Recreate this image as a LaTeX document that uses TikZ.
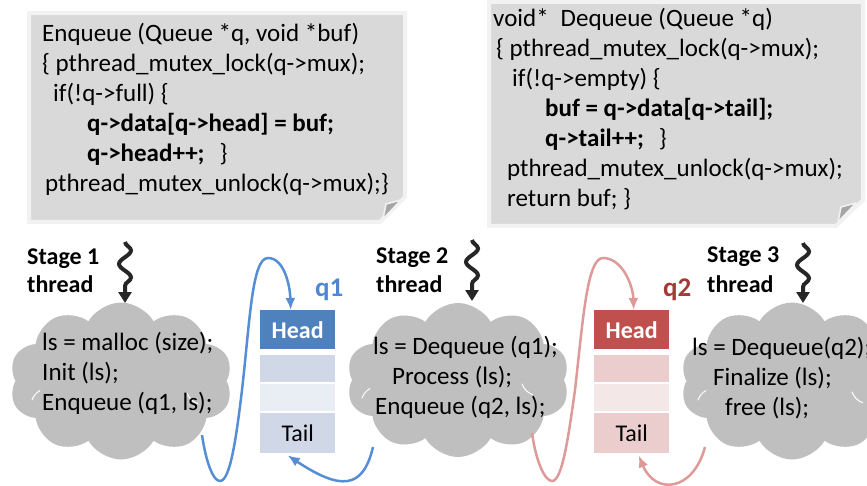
\documentclass[tikz,border=0pt]{standalone}
\usepackage{fontspec}
\setmainfont{Carlito}
\usetikzlibrary{shapes.symbols,arrows.meta,decorations.pathmorphing}

\definecolor{boxfill}{HTML}{D9D9D9}
\definecolor{boxedge}{HTML}{F2F2F2}
\definecolor{foldgray}{HTML}{A6A6A6}
\definecolor{cloudgray}{HTML}{BFBFBF}
\definecolor{threadink}{HTML}{262626}
\definecolor{qblue}{HTML}{4F81BD}
\definecolor{qblueA}{HTML}{D0D8E8}
\definecolor{qblueB}{HTML}{E9EDF4}
\definecolor{arrowblue}{HTML}{558ED5}
\definecolor{labelblue}{HTML}{4F88D0}
\definecolor{qred}{HTML}{C0504D}
\definecolor{qredA}{HTML}{EACDCC}
\definecolor{qredB}{HTML}{F4E7E7}
\definecolor{arrowred}{HTML}{DE9A98}
\definecolor{labelred}{HTML}{A33A36}

\begin{document}
\begin{tikzpicture}[x=1pt,y=-1pt,
  codebox/.style={fill=boxfill,draw=boxedge,line width=4pt,line join=miter},
  fold/.style={fill=foldgray,draw=boxedge,line width=1.5pt,line join=round},
  codeline/.style={anchor=base west,inner sep=0pt,font=\fontsize{25}{30}\selectfont},
  stagelabel/.style={anchor=base west,inner sep=0pt,font=\fontsize{24}{28}\selectfont\bfseries},
  qlabel/.style={anchor=base west,inner sep=0pt,font=\fontsize{27}{30}\selectfont\bfseries},
  puff/.style={cloud,cloud puffs=10,cloud puff arc=120,fill=cloudgray,draw=none,inner sep=0pt},
  puffline/.style={draw=white,line width=1pt,line cap=round},
  cell/.style={anchor=north west,minimum width=75pt,inner sep=0pt,draw=none,font=\fontsize{24}{28}\selectfont},
  threadarrow/.style={draw=threadink,line width=4pt,decorate,
    decoration={snake,amplitude=6pt,segment length=27pt,post length=10pt},
    -{Triangle[length=11pt,width=13pt]}},
  flowblue/.style={draw=arrowblue,line width=2.5pt,-{Latex[length=12pt,width=10pt]}},
  flowred/.style={draw=arrowred,line width=2.5pt,-{Latex[length=12pt,width=10pt]}}]

\useasboundingbox (0,0) rectangle (867,486);

% ---- code boxes with a folded corner ----
\draw[codebox] (29,13) -- (405,13) -- (405,197) -- (380,222) -- (29,222) -- cycle;
\draw[fold] (383,219) -- (386,204) -- (401,200) -- cycle;
\draw[codebox] (489,2) -- (863,2) -- (863,200) -- (836,226) -- (489,226) -- cycle;
\draw[fold] (838,222) -- (841,207) -- (856,203) -- cycle;

\node[codeline] (e1) at (42,42)  {Enqueue (Queue *q, void *buf)};
\node[codeline] (e2) at (42,72)  {\{ pthread\_mutex\_lock(q->mux);};
\node[codeline] (e3) at (53,102) {if(!q->full) \{};
\node[codeline] (e4) at (87,132) {\bfseries q->data[q->head] = buf;};
\node[codeline] (e5) at (87,162) {\textbf{q->head++;}\hspace{15pt}\}};
\node[codeline] (e6) at (45,192) {pthread\_mutex\_unlock(q->mux);\}};

\node[codeline] (d1) at (493,27)  {void*\hspace{12pt}Dequeue (Queue *q)};
\node[codeline] (d2) at (496,57)  {\{ pthread\_mutex\_lock(q->mux);};
\node[codeline] (d3) at (512,87)  {if(!q->empty) \{};
\node[codeline] (d4) at (545,117) {\bfseries buf = q->data[q->tail];};
\node[codeline] (d5) at (545,147) {\textbf{q->tail++;}\hspace{15pt}\}};
\node[codeline] (d6) at (507,177) {pthread\_mutex\_unlock(q->mux);};
\node[codeline] (d7) at (507,207) {return buf; \}};

% ---- stage clouds ----
\node[puff,minimum width=223pt,minimum height=157pt] (cloud1) at (121,381) {};
\node[puff,minimum width=223pt,minimum height=154pt] (cloud2) at (458,380) {};
\node[puff,minimum width=223pt,minimum height=157pt] (cloud3) at (792,381) {};

% faint inner puff edges
\draw[puffline] (187,393) arc[start angle=200,end angle=250,radius=18pt];
\draw[puffline] (32,400) arc[start angle=160,end angle=120,radius=18pt];
\draw[puffline] (522,384) arc[start angle=200,end angle=250,radius=18pt];
\draw[puffline] (362,398) arc[start angle=160,end angle=120,radius=18pt];
\draw[puffline] (852,392) arc[start angle=200,end angle=250,radius=18pt];
\draw[puffline] (698,400) arc[start angle=160,end angle=120,radius=18pt];

\node[codeline] (c1a) at (42,350) {ls = malloc (size);};
\node[codeline] (c1b) at (42,380) {Init (ls);};
\node[codeline] (c1c) at (42,410) {Enqueue (q1, ls);};

\node[codeline] (c2a) at (373,354) {ls = Dequeue (q1);};
\node[codeline] (c2b) at (392,384) {Process (ls);};
\node[codeline] (c2c) at (375,414) {Enqueue (q2, ls);};

\node[codeline] (c3a) at (692,355) {ls = Dequeue(q2);};
\node[codeline] (c3b) at (713,385) {Finalize (ls);};
\node[codeline] (c3c) at (725,415) {free (ls);};

% ---- stage labels and thread arrows ----
\node[stagelabel] (s1a) at (27,265) {Stage 1};
\node[stagelabel] (s1b) at (27,293) {thread};
\node[stagelabel] (s2a) at (376,264) {Stage 2};
\node[stagelabel] (s2b) at (376,293) {thread};
\node[stagelabel] (s3a) at (707,263) {Stage 3};
\node[stagelabel] (s3b) at (707,293) {thread};

\coordinate (t1) at (125,242);
\coordinate (t1e) at (125,303);
\coordinate (t2) at (472,240);
\coordinate (t2e) at (472,301);
\coordinate (t3) at (803,243);
\coordinate (t3e) at (803,303);
\draw[threadarrow] (t1) -- (t1e);
\draw[threadarrow] (t2) -- (t2e);
\draw[threadarrow] (t3) -- (t3e);

% ---- queues ----
\node[cell,fill=qblue,minimum height=39pt,text=white,font=\fontsize{24}{28}\selectfont\bfseries] (q1head) at (260,310) {Head};
\node[cell,fill=qblueA,minimum height=27pt] (q1c2) at (260,355) {};
\node[cell,fill=qblueB,minimum height=27pt] (q1c3) at (260,384) {};
\node[cell,fill=qblueA,minimum height=40pt] (q1tail) at (260,413) {Tail};
\node[qlabel,text=labelblue] (q1lab) at (315,296) {q1};

\node[cell,fill=qred,minimum height=39pt,text=white,font=\fontsize{24}{28}\selectfont\bfseries] (q2head) at (594,310) {Head};
\node[cell,fill=qredA,minimum height=27pt] (q2c2) at (594,355) {};
\node[cell,fill=qredB,minimum height=27pt] (q2c3) at (594,384) {};
\node[cell,fill=qredA,minimum height=40pt] (q2tail) at (594,413) {Tail};
\node[qlabel,text=labelred] (q2lab) at (663,296) {q2};

% ---- enqueue / dequeue connectors ----
\coordinate (b1s) at (202,435);
\coordinate (b1e) at ([xshift=-7pt]q1head.north);
\draw[flowblue] (b1s) .. controls (206,462) and (213,481) .. (220,481)
  .. controls (230,481) and (236,440) .. (242,390)
  .. controls (250,320) and (252,258) .. (268,258)
  .. controls (284,258) and (290,285) .. (b1e);

\coordinate (b2s) at (373,447);
\coordinate (b2e) at ([xshift=-10pt,yshift=-2pt]q1tail.south);
\draw[flowblue] (b2s) .. controls (363,490) and (340,490) .. (b2e);

\coordinate (r1s) at (532,433);
\coordinate (r1e) at ([xshift=2pt]q2head.north);
\draw[flowred] (r1s) .. controls (536,462) and (545,481) .. (552,481)
  .. controls (562,481) and (568,440) .. (575,390)
  .. controls (583,320) and (587,258) .. (603,258)
  .. controls (622,258) and (633,285) .. (r1e);

\coordinate (r2s) at (705,447);
\coordinate (r2e) at ([xshift=7pt,yshift=-2pt]q2tail.south);
\draw[flowred] (r2s) .. controls (693,492) and (655,495) .. (r2e);
\end{tikzpicture}
\end{document}
